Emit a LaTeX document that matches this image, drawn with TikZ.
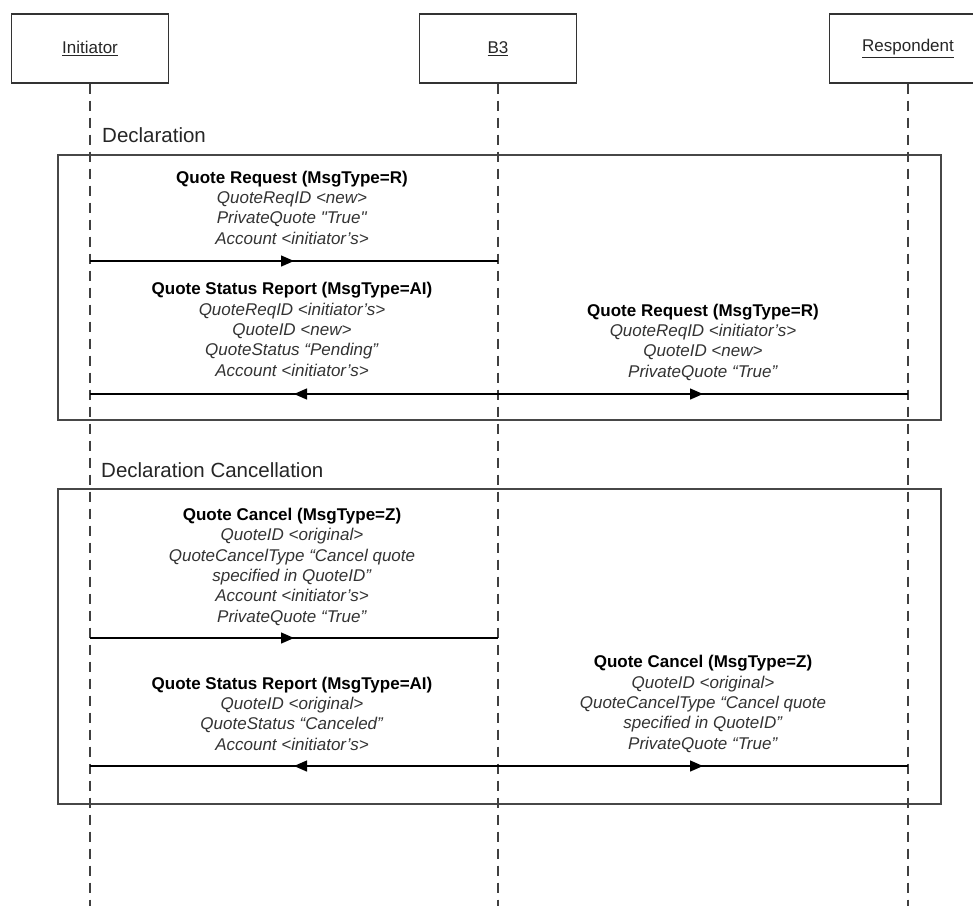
\documentclass[tikz,border=0pt]{standalone}
\usepackage{fontspec}
\setmainfont{Liberation Sans}
\usetikzlibrary{arrows.meta,decorations.markings}
\begin{document}
\begin{tikzpicture}[x=1pt,y=-1pt,
  actor/.style={draw=black!80,line width=1.3pt,fill=white,minimum width=157pt,minimum height=69pt,inner sep=0pt,font=\fontsize{17}{20}\selectfont,text=black!85},
  lifeline/.style={draw=black!75,line width=1.4pt,dash pattern=on 10pt off 7pt},
  framebox/.style={draw=black!72,line width=1.6pt,inner sep=0pt,anchor=north west},
  phase/.style={anchor=base west,inner sep=0pt,font=\fontsize{20.5}{24}\selectfont,text=black!85},
  msgtext/.style={anchor=base,align=center,inner sep=0pt,font=\fontsize{17}{20.3}\selectfont,text=black!80},
  msg/.style={draw=black,line width=1.3pt,postaction={decorate},
    decoration={markings,mark=at position 0.5 with {\arrow{Triangle[length=13pt,width=11pt]}}}},
]
\useasboundingbox (0,0) rectangle (973,906);
\clip (0,0) rectangle (973,906);
\fill[white] (0,0) rectangle (973,906);

% phase frames
\node[framebox,minimum width=883pt,minimum height=265pt] (f1) at (57,154) {};
\node[framebox,minimum width=883pt,minimum height=315pt] (f2) at (57,488) {};
\node[phase] (p1) at (102,142) {Declaration};
\node[phase] (p2) at (101,477) {Declaration Cancellation};

% actors
\node[actor] (init) at (90,48.5) {\underline{Initiator}};
\node[actor] (b3) at (498,48.5) {\underline{B3}};
\node[actor] (resp) at (908,48.5) {\underline{Respondent}};

\coordinate (initEnd) at (90,906);
\coordinate (b3End) at (498,906);
\coordinate (respEnd) at (908,906);
\draw[lifeline] (init.south) -- (initEnd);
\draw[lifeline] (b3.south) -- (b3End);
\draw[lifeline] (resp.south) -- (respEnd);

% message anchor points on lifelines
\coordinate (i1) at (90,261);   \coordinate (b1) at (498,261);
\coordinate (i2) at (90,394);   \coordinate (b2) at (498,394); \coordinate (r2) at (908,394);
\coordinate (i4) at (90,638);   \coordinate (b4) at (498,638);
\coordinate (i5) at (90,766);   \coordinate (b5) at (498,766); \coordinate (r5) at (908,766);

\draw[msg] (i1) -- (b1);
\draw[msg] (b2) -- (i2);
\draw[msg] (b2) -- (r2);
\draw[msg] (i4) -- (b4);
\draw[msg] (b5) -- (i5);
\draw[msg] (b5) -- (r5);

% message texts (anchor = baseline of the last line)
\node[msgtext] (t1) at (292,244) {\textbf{\color{black}Quote Request (MsgType=R)}\\
  \textit{QuoteReqID <new>}\\
  \textit{PrivateQuote \textquotedbl True\textquotedbl}\\
  \textit{Account <initiator's>}};
\node[msgtext] (t2) at (292,376) {\textbf{\color{black}Quote Status Report (MsgType=AI)}\\
  \textit{QuoteReqID <initiator's>}\\
  \textit{QuoteID <new>}\\
  \textit{QuoteStatus “Pending”}\\
  \textit{Account <initiator's>}};
\node[msgtext] (t3) at (703,377) {\textbf{\color{black}Quote Request (MsgType=R)}\\
  \textit{QuoteReqID <initiator's>}\\
  \textit{QuoteID <new>}\\
  \textit{PrivateQuote “True”}};
\node[msgtext] (t4) at (292,622) {\textbf{\color{black}Quote Cancel (MsgType=Z)}\\
  \textit{QuoteID <original>}\\
  \textit{QuoteCancelType “Cancel quote}\\
  \textit{specified in QuoteID”}\\
  \textit{Account <initiator's>}\\
  \textit{PrivateQuote “True”}};
\node[msgtext] (t5) at (292,750) {\textbf{\color{black}Quote Status Report (MsgType=AI)}\\
  \textit{QuoteID <original>}\\
  \textit{QuoteStatus “Canceled”}\\
  \textit{Account <initiator's>}};
\node[msgtext] (t6) at (703,749) {\textbf{\color{black}Quote Cancel (MsgType=Z)}\\
  \textit{QuoteID <original>}\\
  \textit{QuoteCancelType “Cancel quote}\\
  \textit{specified in QuoteID”}\\
  \textit{PrivateQuote “True”}};
\end{tikzpicture}
\end{document}
